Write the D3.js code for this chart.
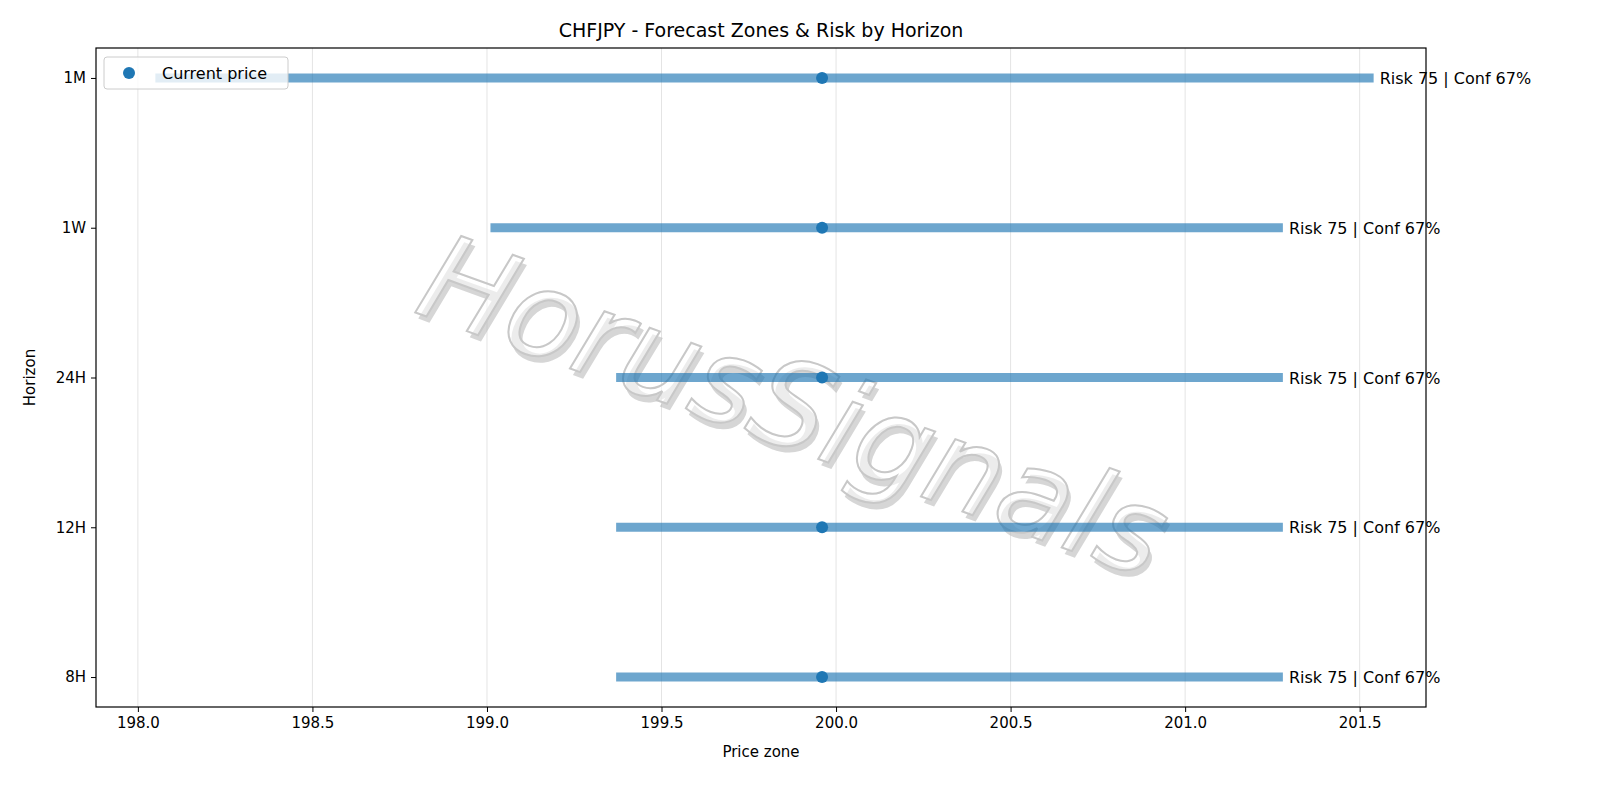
<!DOCTYPE html>
<html><head><meta charset="utf-8">
<script src="https://cdn.jsdelivr.net/npm/d3@7"></script>
<style>body{margin:0;background:#fff;font-family:"DejaVu Sans",sans-serif;}</style>
</head><body><svg id="c" width="1600" height="800"></svg>
<script>
// Data
const horizons = ['8H', '12H', '24H', '1W', '1M'];
const zoneLow = [199.37, 199.37, 199.37, 199.01, 198.05];
const zoneHigh = [201.28, 201.28, 201.28, 201.28, 201.54];
const currentPrice = [199.96, 199.96, 199.96, 199.96, 199.96];
const labels = ['Risk 75 | Conf 67%', 'Risk 75 | Conf 67%', 'Risk 75 | Conf 67%', 'Risk 75 | Conf 67%', 'Risk 75 | Conf 67%'];
const xTicks = [198.0, 198.5, 199.0, 199.5, 200.0, 200.5, 201.0, 201.5];

const svg = d3.select('#c');
const L = 96, R = 1426, T = 48, B = 707;
const x = d3.scaleLinear().domain([197.88, 201.69]).range([L, R]);
const y = d3.scaleLinear().domain([-0.2, 4.2]).range([B, T]);
const blue = '#1f77b4';

// grid
svg.append('g').selectAll('line').data(xTicks).join('line')
  .attr('x1', d => x(d)).attr('x2', d => x(d)).attr('y1', T).attr('y2', B)
  .attr('stroke', '#e4e4e4').attr('stroke-width', 1);

// watermark
const wm = svg.append('g').attr('transform', 'translate(780,445) rotate(20)');
wm.append('text').attr('x', 5).attr('y', 5).attr('text-anchor', 'middle')
  .attr('font-size', 120).attr('font-style', 'italic').attr('fill', '#bbb').attr('opacity', 0.6).text('HorusSignals');
wm.append('text').attr('text-anchor', 'middle').attr('font-size', 120).attr('font-style', 'italic')
  .attr('fill', 'rgba(255,255,255,0.55)').attr('stroke', '#c8c8c8').attr('stroke-width', 2).text('HorusSignals');

// zones
svg.append('g').selectAll('line').data(horizons).join('line')
  .attr('x1', (d, i) => x(zoneLow[i])).attr('x2', (d, i) => x(zoneHigh[i]))
  .attr('y1', (d, i) => y(i)).attr('y2', (d, i) => y(i))
  .attr('stroke', blue).attr('stroke-opacity', 0.65).attr('stroke-width', 9);

svg.append('g').selectAll('circle').data(horizons).join('circle')
  .attr('cx', (d, i) => x(currentPrice[i])).attr('cy', (d, i) => y(i)).attr('r', 6).attr('fill', blue);

svg.append('g').selectAll('text').data(horizons).join('text')
  .attr('x', (d, i) => x(zoneHigh[i]) + 6).attr('y', (d, i) => y(i) + 6)
  .attr('font-size', 16).text((d, i) => labels[i]);

// frame and axes
svg.append('rect').attr('x', L).attr('y', T).attr('width', R - L).attr('height', B - T)
  .attr('fill', 'none').attr('stroke', '#000').attr('stroke-width', 1.2);
const xa = svg.append('g').attr('transform', `translate(0,${B})`)
  .call(d3.axisBottom(x).tickValues(xTicks).tickFormat(d3.format('.1f')).tickSize(5).tickPadding(5));
const ya = svg.append('g').attr('transform', `translate(${L},0)`)
  .call(d3.axisLeft(y).tickValues(d3.range(5)).tickFormat(i => horizons[i]).tickSize(5).tickPadding(5));
[xa, ya].forEach(a => {
  a.select('.domain').remove();
  a.selectAll('text').attr('font-size', 15).attr('fill', '#000').attr('font-family', 'DejaVu Sans');
});

svg.append('text').attr('x', (L + R) / 2).attr('y', 37).attr('text-anchor', 'middle')
  .attr('font-size', 19).text('CHFJPY - Forecast Zones & Risk by Horizon');
svg.append('text').attr('x', (L + R) / 2).attr('y', 757).attr('text-anchor', 'middle')
  .attr('font-size', 15).text('Price zone');
svg.append('text').attr('transform', `translate(35,${(T + B) / 2}) rotate(-90)`).attr('text-anchor', 'middle')
  .attr('font-size', 15).text('Horizon');

// legend
const lg = svg.append('g');
lg.append('rect').attr('x', 104).attr('y', 57).attr('width', 184).attr('height', 32).attr('rx', 3)
  .attr('fill', 'rgba(255,255,255,0.8)').attr('stroke', '#ccc');
lg.append('circle').attr('cx', 129).attr('cy', 73).attr('r', 6).attr('fill', blue);
lg.append('text').attr('x', 162).attr('y', 79).attr('font-size', 16).text('Current price');
</script></body></html>
